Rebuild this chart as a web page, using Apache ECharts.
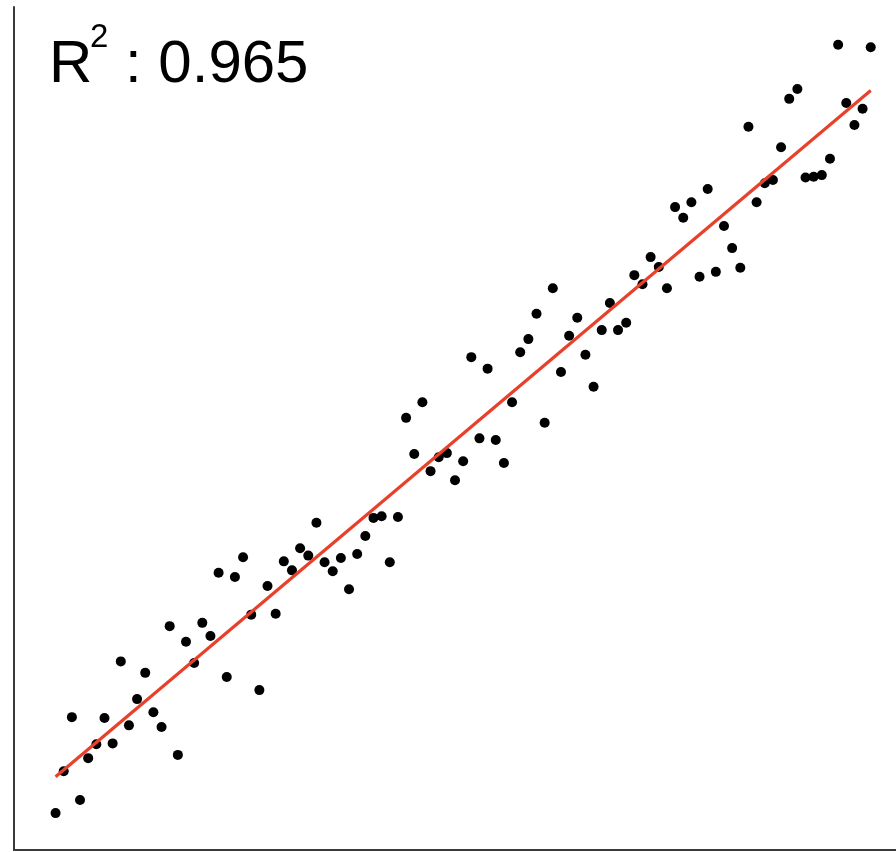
<!DOCTYPE html>
<html>
<head>
<meta charset="utf-8">
<script src="https://cdn.jsdelivr.net/npm/echarts@6/dist/echarts.min.js"></script>
<style>
html,body{margin:0;padding:0;background:#fff;}
#chart{width:896px;height:852px;}
</style>
</head>
<body>
<div id="chart"></div>
<script>
// x positions (index of observation)
var xValues = [];
for (var k = 0; k <= 100; k++) xValues.push(k);
var yValues = [
  4.5, 9.6, 16.2, 6.1, 11.2, 12.9, 16.1, 13.0, 23.0, 15.2,
  18.4, 21.6, 16.8, 15.0, 27.3, 11.6, 25.4, 22.8, 27.7, 26.1,
  33.8, 21.1, 33.3, 35.7, 28.7, 19.5, 32.2, 28.8, 35.2, 34.1,
  36.8, 35.9, 39.9, 35.1, 34.0, 35.6, 31.8, 36.1, 38.3, 40.5,
  40.7, 35.1, 40.6, 52.7, 48.3, 54.6, 46.2, 47.9, 48.4, 45.1,
  47.4, 60.1, 50.2, 58.7, 50.0, 47.2, 54.6, 60.7, 62.3, 65.4,
  52.1, 68.5, 58.3, 62.7, 64.9, 60.4, 56.5, 63.4, 66.7, 63.4,
  64.3, 70.1, 69.0, 72.3, 71.1, 68.5, 78.4, 77.1, 79.0, 69.9,
  80.6, 70.5, 76.1, 73.4, 71.0, 88.2, 79.0, 81.3, 81.7, 85.7,
  91.6, 92.8, 82.0, 82.1, 82.3, 84.3, 98.2, 91.1, 88.4, 90.4,
  97.9
];
var r2Label = '0.965';

// least squares fit from the data
var n = xValues.length, sx = 0, sy = 0, sxx = 0, sxy = 0;
for (var i = 0; i < n; i++) {
  sx += xValues[i]; sy += yValues[i];
  sxx += xValues[i] * xValues[i]; sxy += xValues[i] * yValues[i];
}
var slope = (n * sxy - sx * sy) / (n * sxx - sx * sx);
var intercept = (sy - slope * sx) / n;
var xFirst = xValues[0], xLast = xValues[n - 1];
var fitLine = [[xFirst, intercept + slope * xFirst], [xLast, intercept + slope * xLast]];

var points = xValues.map(function (x, j) { return [x, yValues[j]]; });

var fam = '"Liberation Sans", Arial, sans-serif';

var chart = echarts.init(document.getElementById('chart'), null, {renderer: 'canvas'});
chart.setOption({
  animation: false,
  backgroundColor: '#ffffff',
  grid: {left: 14, right: 0, top: 7, bottom: 2, containLabel: false},
  xAxis: {
    type: 'value', min: -5.1, max: 103.1,
    axisLine: {show: true, onZero: false, lineStyle: {color: '#3a3a3a', width: 2}},
    axisTick: {show: false}, axisLabel: {show: false}, splitLine: {show: false}
  },
  yAxis: {
    type: 'value', min: 0, max: 102.8,
    axisLine: {show: true, onZero: false, lineStyle: {color: '#3a3a3a', width: 2}},
    axisTick: {show: false}, axisLabel: {show: false}, splitLine: {show: false}
  },
  series: [
    {
      type: 'scatter', data: points, symbol: 'circle', symbolSize: 10,
      itemStyle: {color: '#000000', opacity: 1}, z: 2
    },
    {
      type: 'line', data: fitLine, showSymbol: false, symbol: 'none',
      lineStyle: {color: '#e8412b', width: 3.2}, z: 3
    }
  ],
  graphic: [
    {type: 'text', x: 49, y: 35, z: 10, style: {text: 'R', fontSize: 60, fontFamily: fam, fill: '#000'}},
    {type: 'text', x: 90, y: 21, z: 10, style: {text: '2', fontSize: 33, fontFamily: fam, fill: '#000'}},
    {type: 'text', x: 125, y: 35, z: 10, style: {text: ': ' + r2Label, fontSize: 60, fontFamily: fam, fill: '#000'}}
  ]
});
</script>
</body>
</html>
